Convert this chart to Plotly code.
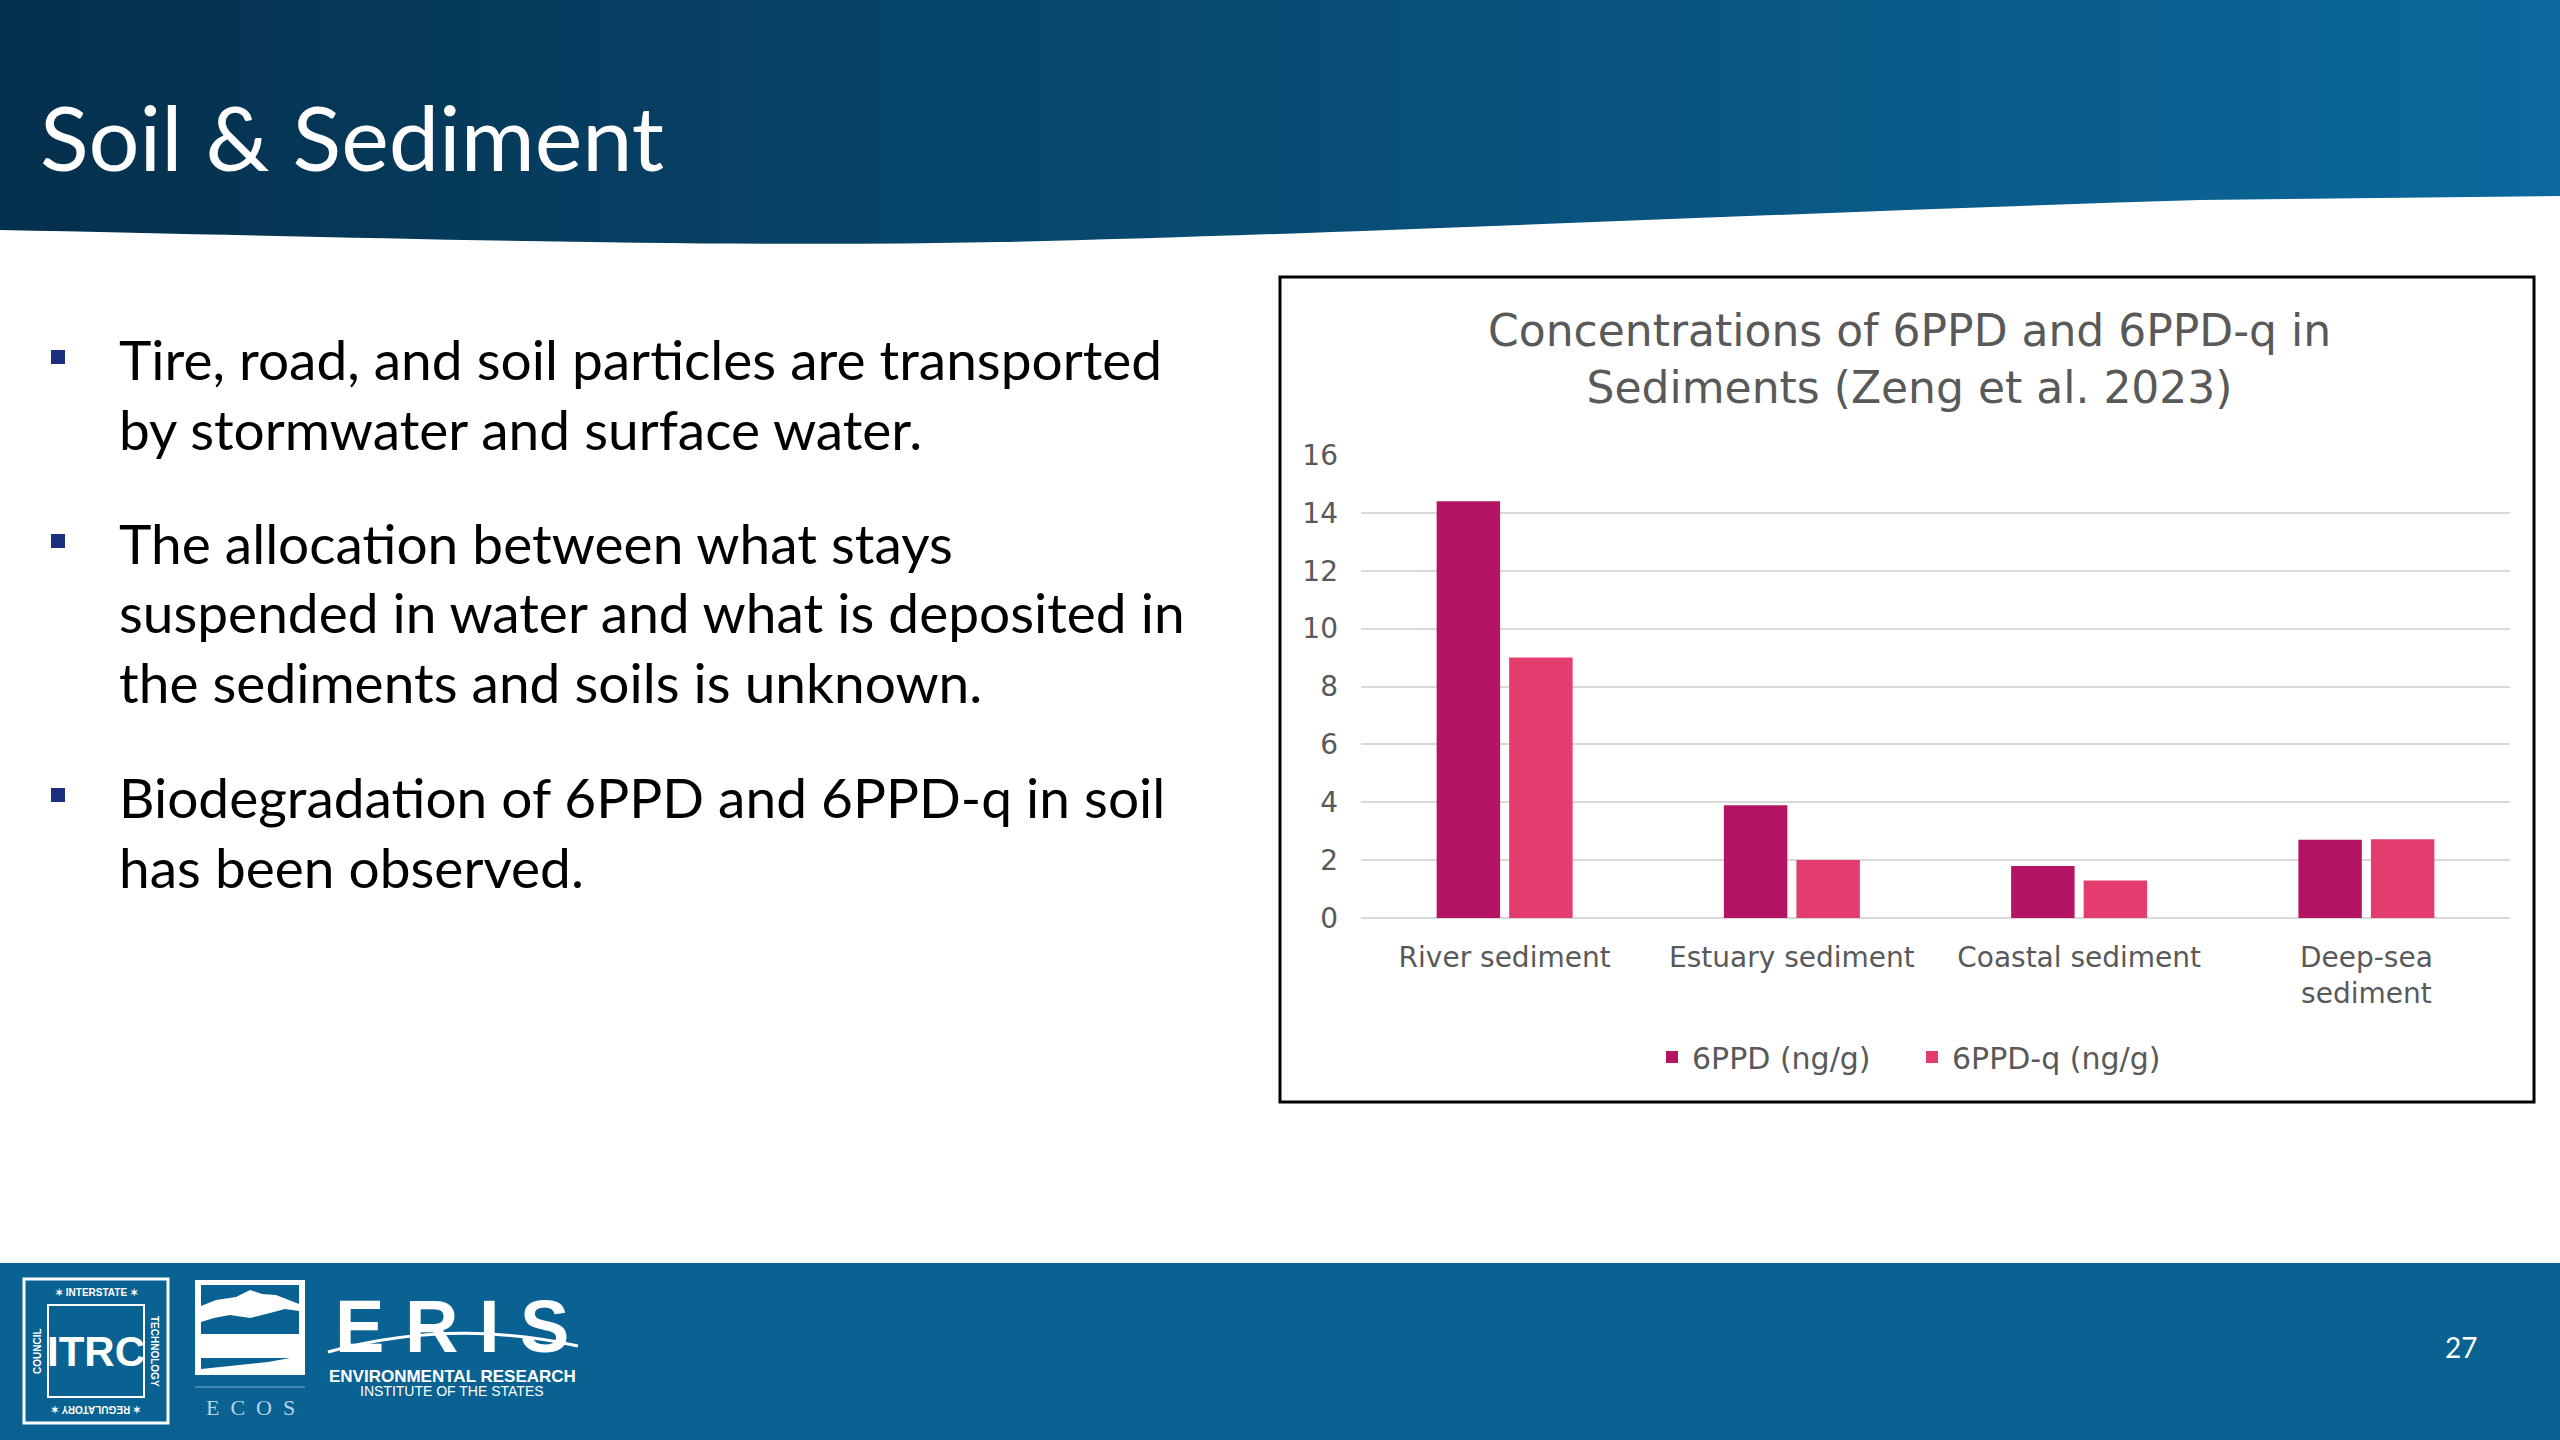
import plotly.graph_objects as go

# ---------------- data ----------------
categories = ["River sediment", "Estuary sediment", "Coastal sediment", "Deep-sea<br>sediment"]
ppd_values = [14.4, 3.9, 1.8, 2.7]
ppdq_values = [9.0, 2.0, 1.3, 2.72]
series_names = ["6PPD (ng/g)", "6PPD-q (ng/g)"]
y_tick_values = [0, 2, 4, 6, 8, 10, 12, 14, 16]
chart_title = "Concentrations of 6PPD and 6PPD-q in<br>Sediments (Zeng et al. 2023)"
slide_title = "Soil & Sediment"
bullet_lines = [
    ["Tire, road, and soil particles are transported", "by stormwater and surface water."],
    ["The allocation between what stays", "suspended in water and what is deposited in",
     "the sediments and soils is unknown."],
    ["Biodegradation of 6PPD and 6PPD-q in soil", "has been observed."],
]
page_number = "27"

# ---------------- helpers ----------------
W, H = 2560, 1440


def X(x):
    return x / W


def Y(y):
    return 1 - y / H


def P(x, y):
    return f"{X(x):.5f},{Y(y):.5f}"


def poly(pts):
    return "M " + " L ".join(P(x, y) for x, y in pts) + " Z"


def lerp_color(c1, c2, t):
    a = [int(c1[i:i + 2], 16) for i in (1, 3, 5)]
    b = [int(c2[i:i + 2], 16) for i in (1, 3, 5)]
    return "#" + "".join(f"{round(a[k] + (b[k] - a[k]) * t):02x}" for k in range(3))


BODY_FONT = "Lato"
CHART_FONT = "DejaVu Sans"
DARK = "#B41464"
PINK = "#E23D6E"
FOOT = "#0a6293"

fig = go.Figure()
fig.add_trace(go.Bar(x=categories, y=ppd_values, name=series_names[0],
                     marker=dict(color=DARK, line=dict(width=0))))
fig.add_trace(go.Bar(x=categories, y=ppdq_values, name=series_names[1],
                     marker=dict(color=PINK, line=dict(width=0))))

shapes = []
annotations = []


def rect(x0, y0, x1, y1, fill, line=None):
    shapes.append(dict(type="rect", xref="paper", yref="paper", x0=X(x0), x1=X(x1),
                       y0=Y(y1), y1=Y(y0), fillcolor=fill,
                       line=line if line else dict(width=0), layer="above"))


def text(t, x, y, size, color, family=BODY_FONT, xanchor="center", angle=0):
    annotations.append(dict(text=t, xref="paper", yref="paper", x=X(x), y=Y(y),
                            xanchor=xanchor, yanchor="middle", showarrow=False,
                            textangle=angle, font=dict(family=family, size=size, color=color)))


# header gradient strips
n = 64
for i in range(n):
    x0 = i * W / n
    x1 = min((i + 1) * W / n + 1, W)
    rect(x0, 0, x1, 255, lerp_color("#05304d", "#0b689c", i / (n - 1)))
# white cover under the curved header edge
curve = ("M " + P(0, 230) + " C " + P(400, 238) + " " + P(700, 248) + " " + P(1000, 242)
         + " S " + P(1800, 212) + " " + P(2200, 200) + " L " + P(2560, 196)
         + " L " + P(2560, 262) + " L " + P(0, 262) + " Z")
shapes.append(dict(type="path", xref="paper", yref="paper", path=curve,
                   fillcolor="white", line=dict(width=0), layer="above"))

# footer band
rect(0, 1263, W, H, FOOT)

# chart box
rect(1280, 277, 2534, 1102, "rgba(0,0,0,0)", dict(color="black", width=3))

# bullet squares and text
baselines = [[378, 448], [562, 631, 701], [816, 886]]
for para, bl in zip(bullet_lines, baselines):
    cy = bl[0] - 21
    rect(51, cy - 7, 65, cy + 7, "#1a2f7e")
    for line, b in zip(para, bl):
        text(line, 117, b - 19, 55, "black", xanchor="left")

# slide title
text(slide_title, 38, 136, 90, "white", xanchor="left")

# chart title
text(chart_title, 1909, 359, 44, "#595959", family=CHART_FONT)

# page number
text(page_number, 2461, 1347, 28, "white")

# ---- footer logos (approximate) ----
# ITRC
rect(24, 1279, 168, 1423, "rgba(0,0,0,0)", dict(color="white", width=3))
rect(48, 1305, 144, 1397, "rgba(0,0,0,0)", dict(color="white", width=2))
text("<b>ITRC</b>", 96, 1351, 42, "white", family="Liberation Sans")
text("<b>✶ INTERSTATE ✶</b>", 96, 1292, 10, "white", family="Liberation Sans")
text("<b>✶ REGULATORY ✶</b>", 96, 1410, 10, "white", family="Liberation Sans", angle=180)
text("<b>COUNCIL</b>", 37, 1351, 10, "white", family="Liberation Sans", angle=-90)
text("<b>TECHNOLOGY</b>", 155, 1351, 10, "white", family="Liberation Sans", angle=90)
# ECOS
rect(195, 1280, 305, 1375, "white")
rect(201, 1285, 299, 1334, FOOT)
shapes.append(dict(type="path", xref="paper", yref="paper", layer="above",
                   fillcolor="white", line=dict(width=0),
                   path=poly([(201, 1306), (216, 1300), (236, 1297), (250, 1290), (262, 1294),
                              (276, 1295), (299, 1304), (299, 1311), (285, 1309), (270, 1313),
                              (250, 1318), (230, 1315), (214, 1318), (201, 1322)])))
shapes.append(dict(type="path", xref="paper", yref="paper", layer="above",
                   fillcolor=FOOT, line=dict(width=0),
                   path=poly([(201, 1358), (290, 1358), (268, 1362), (201, 1369)])))
shapes.append(dict(type="line", xref="paper", yref="paper", x0=X(195), x1=X(305),
                   y0=Y(1387), y1=Y(1387), line=dict(color="#7fb2d3", width=1),
                   layer="above"))
text("E  C  O  S", 250, 1407, 22, "#b9d3e6", family="Liberation Serif")
# ERIS
text("<b>E R I S</b>", 452, 1326, 74, "white", family="Liberation Sans")
shapes.append(dict(type="path", xref="paper", yref="paper", layer="above",
                   path="M " + P(328, 1352) + " Q " + P(452, 1318) + " " + P(578, 1346),
                   line=dict(color="white", width=3)))
text("<b>ENVIRONMENTAL RESEARCH</b>", 452, 1376, 17, "white", family="Liberation Sans")
text("INSTITUTE OF THE STATES", 452, 1391, 14, "white", family="Liberation Sans")

AX_FONT = dict(family=CHART_FONT, size=28, color="#595959")
fig.update_layout(
    width=W, height=H, autosize=False,
    margin=dict(l=0, r=0, t=0, b=0, pad=0, autoexpand=False),
    paper_bgcolor="white", plot_bgcolor="white",
    barmode="group", bargap=0.495, bargroupgap=0.125,
    shapes=shapes, annotations=annotations,
    showlegend=True,
    legend=dict(orientation="h", x=X(1912), y=Y(1057), xanchor="center", yanchor="middle",
                font=dict(family=CHART_FONT, size=30, color="#595959"),
                bgcolor="rgba(0,0,0,0)", itemwidth=30, tracegroupgap=0,
                entrywidth=215, entrywidthmode="pixels"),
    xaxis=dict(domain=[X(1361), X(2510)], showgrid=False, showline=False, ticks="",
               tickfont=AX_FONT, ticklabelstandoff=20, fixedrange=True, automargin=False),
    yaxis=dict(domain=[Y(918), Y(455)], range=[0, 16], tickvals=y_tick_values,
               showgrid=True, gridcolor="#D9D9D9", gridwidth=2,
               zeroline=True, zerolinecolor="#D9D9D9", zerolinewidth=2,
               showline=False, ticks="", tickfont=AX_FONT,
               ticklabelstandoff=22, fixedrange=True, automargin=False),
)

fig.write_html("out.html", config={"displayModeBar": False},
               post_script="document.body.style.margin='0';document.body.style.overflow='hidden';")
